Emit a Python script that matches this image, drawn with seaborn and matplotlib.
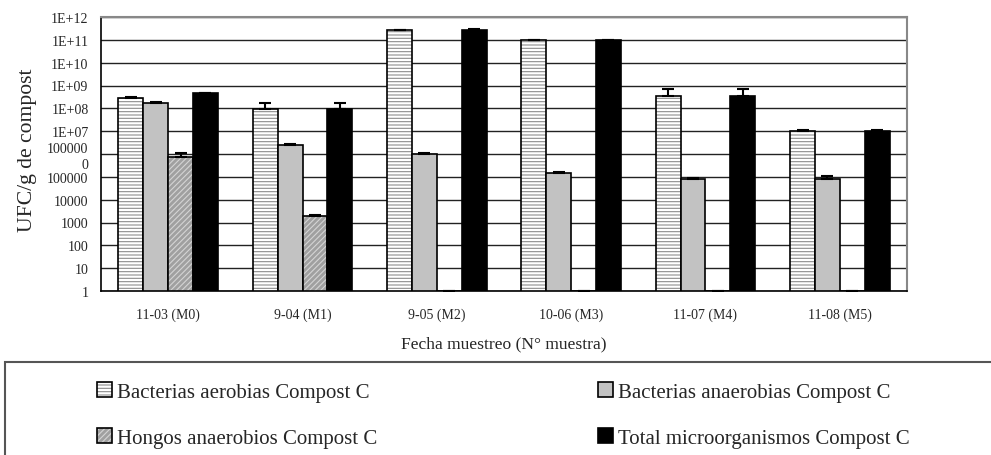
import numpy as np
import pandas as pd
import seaborn as sns
import matplotlib.pyplot as plt
from matplotlib.colors import to_rgba
from matplotlib.patches import Rectangle

#%% data
muestras = ["11-03 (M0)", "9-04 (M1)", "9-05 (M2)", "10-06 (M3)", "11-07 (M4)", "11-08 (M5)"]
grupos = ["Bacterias aerobias Compost C", "Bacterias anaerobias Compost C",
          "Hongos anaerobios Compost C", "Total microorganismos Compost C"]

aerobias = [2.7e8, 9.0e7, 2.7e11, 9.4e10, 3.3e8, 1.0e7]
anaerobias = [1.8e8, 2.4e6, 1.0e6, 1.4e5, 8.4e4, 8.4e4]
hongos = [7.5e5, 1.9e3, 1, 1, 1, 1]   # 1 = not detected
total = [4.5e8, 9.0e7, 2.75e11, 1.0e11, 3.3e8, 1.05e7]

# upper error bar tips
aerobias_err = [3.0e8, 1.65e8, 2.8e11, 9.6e10, 6.9e8, 1.1e7]
anaerobias_err = [1.9e8, 2.7e6, 1.15e6, 1.7e5, 9.0e4, 1.1e5]
hongos_err = [1.1e6, 2.2e3, 1, 1, 1, 1]
total_err = [4.7e8, 1.65e8, 2.85e11, 1.0e11, 6.9e8, 1.08e7]

ytick_vals = [1, 10, 100, 1e3, 1e4, 1e5, 1e6, 1e7, 1e8, 1e9, 1e10, 1e11, 1e12]
ytick_labels = ["1", "10", "100", "1000", "10000", "100000", "100000\n0",
                "1E+07", "1E+08", "1E+09", "1E+10", "1E+11", "1E+12"]

#%% long table for seaborn
series = [aerobias, anaerobias, hongos, total]
tops = [aerobias_err, anaerobias_err, hongos_err, total_err]
df = pd.DataFrame({
    "muestra": np.tile(muestras, len(grupos)),
    "grupo": np.repeat(grupos, len(muestras)),
    "ufc": np.concatenate(series),
})

sns.set_style("white")
plt.rcParams['font.family'] = ['Liberation Serif', 'DejaVu Serif']
plt.rcParams['hatch.linewidth'] = 0.8

fig = plt.figure(figsize=(9.91, 4.56), dpi=100)
ax = fig.add_axes([101/991, 1 - 292/456, (907 - 101)/991, (292 - 18)/456])
ax.set_yscale('log')

colores = ["white", "#c2c2c2", "#a0a0a0", "black"]
sns.barplot(data=df, x="muestra", y="ufc", hue="grupo", order=muestras, hue_order=grupos,
            palette=colores, width=0.74, gap=0, edgecolor="black", linewidth=1.2,
            errorbar=None, ax=ax, legend=False)
bars = list(ax.containers)

# hatching like the original
hatches = ["-----", None, "//////", None]
hatch_cols = ["#8c8c8c", None, "#d4d4d4", None]
for cont, h, hc in zip(bars, hatches, hatch_cols):
    for p in cont.patches:
        if h:
            p.set_hatch(h)
            p._hatch_color = to_rgba(hc)

# upper-only error bars
for cont, vals, tp in zip(bars, series, tops):
    xs = [p.get_x() + p.get_width() / 2 for p in cont.patches]
    up = np.array(tp) - np.array(vals)
    ax.errorbar(xs, vals, yerr=[np.zeros(len(vals)), up], fmt='none',
                ecolor='black', elinewidth=1.5, capsize=4, capthick=1.5, zorder=3)

ax.set_ylim(1, 1e12)
ax.set_xlim(-0.5, len(muestras) - 0.5)
ax.set_yticks(ytick_vals)
ax.set_yticklabels(ytick_labels, fontsize=10, linespacing=1.3)
ax.yaxis.set_minor_locator(plt.NullLocator())
ax.grid(axis='y', color='#222222', linewidth=1.0)
ax.set_axisbelow(True)
ax.tick_params(axis='y', direction='out', length=5, width=1, color='black', pad=4)

ax.set_xticks(range(len(muestras)))
ax.set_xticklabels(muestras, fontsize=10)
ax.set_xticks(np.arange(len(muestras) + 1) - 0.5, minor=True)
ax.tick_params(axis='x', which='major', length=0, pad=12)
ax.tick_params(axis='x', which='minor', direction='out', length=5, width=1, color='black')

for s in ['top', 'right']:
    ax.spines[s].set_color('#888888')
    ax.spines[s].set_linewidth(1.5)
for s in ['left', 'bottom']:
    ax.spines[s].set_color('black')
    ax.spines[s].set_linewidth(1.2)

ax.set_xlabel("Fecha muestreo (N° muestra)", fontsize=12.6, labelpad=10)
ax.set_ylabel("UFC/g de compost", fontsize=15.6)
ax.yaxis.set_label_coords(-(101 - 37) / 806, (292 - 150) / 274)

# legend box at the bottom
fig.patches.append(Rectangle((5/991, -0.1), 1.0, 1 - 363/456 + 0.1, transform=fig.transFigure,
                             fill=False, edgecolor='#555555', linewidth=1.5))
# legend fills by column, so reorder to get rows like the original
orden = [0, 2, 1, 3]
handles = [bars[i].patches[0] for i in orden]
labels = [grupos[i] for i in orden]
fig.legend(handles, labels, ncol=2, loc='upper left', bbox_to_anchor=(87/991, 1 - 373/456),
           frameon=False, fontsize=15, handlelength=0.7, handleheight=0.7,
           handletextpad=0.25, columnspacing=10.6, labelspacing=1.25, borderpad=0)

fig.savefig("out.png", dpi=100)
